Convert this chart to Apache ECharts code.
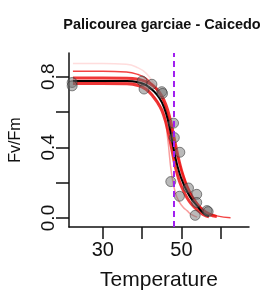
<!DOCTYPE html>
<html><head><meta charset="utf-8">
<script src="https://cdn.jsdelivr.net/npm/echarts@6/dist/echarts.min.js"></script>
<style>html,body{margin:0;padding:0;background:#fff}#c{width:261px;height:296px}</style>
</head><body><div id="c"></div>
<script>
const titleText = "Palicourea garciae - Caicedo";
const xName = "Temperature";
const yName = "Fv/Fm";
const xTicks = [30, 40, 50, 60];
const xLabels = [30, 50];
const yTicks = [0, 0.2, 0.4, 0.6, 0.8];
const yLabels = [0, 0.4, 0.8];
const critTemp = 48.0;

// observed points
const pointTemp = [22.2, 22.2, 40.0, 40.5, 42.5, 45.0, 45.2, 48.0, 48.2, 49.6, 47.3, 49.5, 51.8, 53.9, 53.9, 53.5, 56.5, 56.8];
const pointFv   = [0.767, 0.748, 0.775, 0.730, 0.757, 0.715, 0.705, 0.537, 0.455, 0.372, 0.206, 0.123, 0.170, 0.134, 0.088, 0.015, 0.042, 0.036];

// fitted curves
const curveTemp = [22.4, 30, 36, 39, 41, 43, 44.5, 45.5, 46.5, 47.5, 48.5, 49.5, 50.5, 51.5, 52.5, 54, 55.5, 57, 59, 62.5];
const fitBlack  = [0.776, 0.776, 0.775, 0.768, 0.752, 0.717, 0.675, 0.630, 0.560, 0.455, 0.340, 0.255, 0.195, 0.148, 0.110, 0.068, 0.030, 0.012, null, null];
const bootA     = [0.792, 0.792, 0.791, 0.785, 0.772, 0.745, 0.708, 0.670, 0.612, 0.525, 0.415, 0.315, 0.235, 0.175, 0.130, 0.078, 0.042, 0.021, 0.008, null];
const bootB     = [0.762, 0.762, 0.760, 0.750, 0.728, 0.682, 0.632, 0.580, 0.500, 0.395, 0.285, 0.208, 0.155, 0.112, 0.080, 0.046, 0.020, 0.007, null, null];
const bootUpper = [0.831, 0.831, 0.826, 0.812, 0.790, 0.745, 0.700, 0.655, 0.590, 0.500, 0.400, 0.310, 0.240, 0.180, 0.135, 0.085, 0.050, 0.028, 0.012, 0.002];
const bootLow   = [0.772, 0.772, 0.770, 0.760, 0.740, 0.690, 0.640, 0.600, 0.450, 0.250, 0.140, 0.090, 0.060, 0.040, 0.020, 0.005, null, null, null, null];
const bootPink  = [0.875, 0.875, 0.870, 0.850, 0.820, 0.760, 0.700, 0.650, 0.580, 0.490, 0.390, 0.300, 0.230, 0.170, 0.125, 0.075, 0.040, 0.020, 0.007, null];

function pairs(xs, ys){ return xs.map((x,i)=>[x, ys[i]]).filter(p=>p[1]!==null); }
function redLine(vals, color, w){
  return {type:'line', data:pairs(curveTemp, vals), smooth:true, symbol:'none', silent:true,
    lineStyle:{color:color, width:w}, z:2};
}
const chart = echarts.init(document.getElementById('c'), null, {renderer:'canvas'});
const font = 'Liberation Sans, Arial, sans-serif';
chart.setOption({
  animation:false,
  backgroundColor:'#fff',
  title:{text:titleText, left:157, top:12, textAlign:'center',
    textStyle:{fontFamily:font, fontSize:14.5, fontWeight:'bold', color:'#111'}},
  grid:{left:69, right:12, top:53, bottom:64},
  xAxis:{type:'value', min:21.4, max:67.2, name:xName, nameLocation:'middle', nameGap:43,
    nameTextStyle:{fontFamily:font, fontSize:21, color:'#111'},
    axisLine:{onZero:false, lineStyle:{color:'#111', width:1.5}},
    axisTick:{show:true, length:12, customValues:xTicks, lineStyle:{color:'#111', width:1.5}},
    axisLabel:{customValues:xLabels, fontFamily:font, fontSize:20, color:'#111', margin:13},
    splitLine:{show:false}},
  yAxis:{type:'value', min:-0.051, max:0.934, name:yName, nameLocation:'middle', nameGap:45, nameRotate:90,
    nameTextStyle:{fontFamily:font, fontSize:16, color:'#111'},
    axisLine:{onZero:false, lineStyle:{color:'#111', width:1.5}},
    axisTick:{show:true, length:13, customValues:yTicks, lineStyle:{color:'#111', width:1.5}},
    axisLabel:{customValues:yLabels, rotate:90, fontFamily:font, fontSize:19, color:'#111', margin:11,
      formatter:v=>v.toFixed(1)},
    splitLine:{show:false}},
  series:[
    redLine(bootPink, 'rgba(255,120,120,0.25)', 1.5),
    redLine(bootUpper, 'rgba(240,20,20,0.8)', 1.5),
    redLine(bootLow, 'rgba(240,40,40,0.45)', 1.5),
    redLine(bootA, 'rgba(235,20,20,0.85)', 3),
    redLine(bootB, 'rgba(235,20,20,0.85)', 3),
    {type:'line', data:pairs(curveTemp, fitBlack), smooth:true, symbol:'none', silent:true,
      lineStyle:{color:'#000', width:2}, z:3,
      markLine:{silent:true, symbol:'none', label:{show:false},
        lineStyle:{color:'#a020f0', type:[6,4], width:2},
        data:[{xAxis:critTemp}]}},
    {type:'scatter', data:pairs(pointTemp, pointFv), symbol:'circle', symbolSize:10, z:4,
      itemStyle:{color:'rgba(110,110,110,0.6)', borderColor:'rgba(50,50,50,0.7)', borderWidth:1}}
  ]
});
</script></body></html>
